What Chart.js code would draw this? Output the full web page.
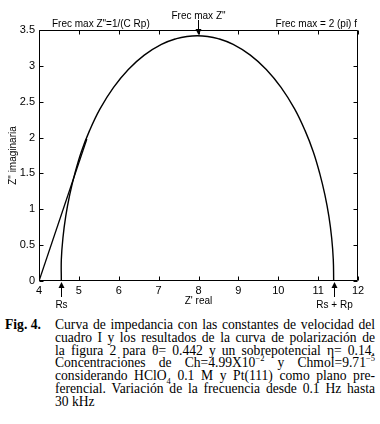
<!DOCTYPE html>
<html><head><meta charset="utf-8">
<script src="https://cdn.jsdelivr.net/npm/chart.js@4/dist/chart.umd.min.js"></script>
<style>
html,body{margin:0;padding:0;background:#fff;}
#wrap{position:relative;width:380px;height:424px;overflow:hidden;background:#fff}
canvas{position:absolute;left:0;top:0}
#cap{position:absolute;left:5px;top:319px;width:370px;font-family:"Liberation Serif","Times New Roman",serif;font-size:13.6px;line-height:12.8px;color:#000;display:flex}
#cap .fig{font-weight:bold;width:50px;flex:none}
#cap .txt{width:320px}
#cap .ln{text-align:justify;text-align-last:justify;white-space:nowrap}
#cap .ln.last{text-align-last:left}
sup,sub{font-size:8.5px;line-height:0}
</style></head><body>
<div id="wrap"><canvas id="c" width="380" height="314"></canvas>
<div id="cap"><div class="fig">Fig. 4.</div><div class="txt">
<div class="ln">Curva de impedancia con las constantes de velocidad del</div>
<div class="ln">cuadro I y los resultados de la curva de polarización de</div>
<div class="ln">la figura 2 para θ= 0.442 y un sobrepotencial η= 0.14.</div>
<div class="ln">Concentraciones de Ch=4.99X10<sup>−2</sup> y Chmol=9.71<sup>−5</sup></div>
<div class="ln">considerando HClO<sub>4</sub> 0.1 M y Pt(111) como plano pre-</div>
<div class="ln">ferencial. Variación de la frecuencia desde 0.1 Hz hasta</div>
<div class="ln last">30 kHz</div>
</div></div></div>
<script>
// Nyquist curve
const zReal = [4.56, 4.56, 4.60, 4.67, 4.77, 4.90, 5.06, 5.27, 5.53, 5.87, 6.24, 6.64, 7.07, 7.45, 7.71, 7.97, 8.23, 8.49, 8.87, 9.30, 9.70, 10.07, 10.41, 10.67, 10.88, 11.04, 11.17, 11.27, 11.34, 11.38, 11.39];
const zImag = [0, 0.30, 0.60, 0.90, 1.20, 1.50, 1.80, 2.10, 2.40, 2.70, 2.95, 3.15, 3.30, 3.38, 3.41, 3.42, 3.41, 3.38, 3.30, 3.15, 2.95, 2.70, 2.40, 2.10, 1.80, 1.50, 1.20, 0.90, 0.60, 0.30, 0];
// straight line from the origin of the axes
const lineReal = [4.0, 5.2];
const lineImag = [0, 1.98];
// marked values
const rsValue = 4.56;
const rsRpValue = 11.40;
const peakReal = 7.99;
const xMin = 4, xMax = 12, xStep = 1;
const yMin = 0, yMax = 3.5, yStep = 0.5;

const sans = '"Liberation Sans", Arial, Helvetica, sans-serif';

const frame = {
  id: 'frame',
  afterDraw(chart) {
    const {ctx, chartArea: a, scales: {x, y}} = chart;
    const L = Math.round(a.left) + 0.5, R = Math.round(a.right) - 0.5;
    const T = Math.round(a.top) + 0.5, B = Math.round(a.bottom) - 0.5;
    ctx.save();
    ctx.strokeStyle = '#000'; ctx.lineWidth = 1;
    ctx.beginPath();
    ctx.rect(L, T, R - L, B - T);
    const tl = 4;
    x.ticks.forEach(t => {
      const p = Math.round(x.getPixelForValue(t.value)) + 0.5;
      ctx.moveTo(p, B); ctx.lineTo(p, B - tl);
      ctx.moveTo(p, T); ctx.lineTo(p, T + tl);
    });
    y.ticks.forEach(t => {
      const p = Math.round(y.getPixelForValue(t.value)) + 0.5;
      ctx.moveTo(L, p); ctx.lineTo(L + tl, p);
      ctx.moveTo(R, p); ctx.lineTo(R - tl, p);
    });
    ctx.stroke();

    function arrow(xp, tail, tip) {
      const dir = tip > tail ? 1 : -1;
      ctx.beginPath();
      ctx.moveTo(xp, tail); ctx.lineTo(xp, tip - dir * 4);
      ctx.stroke();
      ctx.beginPath();
      ctx.moveTo(xp, tip);
      ctx.lineTo(xp - 3, tip - dir * 6);
      ctx.lineTo(xp + 3, tip - dir * 6);
      ctx.closePath();
      ctx.fillStyle = '#000';
      ctx.fill();
    }
    const rsX = Math.round(x.getPixelForValue(rsValue)) + 0.5;
    const rsRpX = Math.round(x.getPixelForValue(rsRpValue)) + 0.5;
    const pkX = Math.round(x.getPixelForValue(peakReal)) + 0.5;
    arrow(rsX, a.bottom + 16, a.bottom + 1);
    arrow(rsRpX, a.bottom + 16, a.bottom + 1);
    arrow(pkX, a.top - 10, a.top + 5);

    ctx.fillStyle = '#000';
    ctx.font = '10px ' + sans;
    ctx.textBaseline = 'middle';
    ctx.textAlign = 'left';
    ctx.fillText('Frec max Z"=1/(C Rp)', a.left + 13, a.top - 5.5);
    ctx.textAlign = 'right';
    ctx.fillText('Frec max = 2 (pi) f', a.right - 1, a.top - 5.5);
    ctx.textAlign = 'center';
    ctx.fillText('Frec max Z"', pkX, a.top - 14);
    ctx.fillText('Rs', rsX, a.bottom + 24);
    ctx.fillText('Rs + Rp', rsRpX, a.bottom + 24);
    ctx.restore();
  }
};

const pts = (xs, ys) => xs.map((v, i) => ({x: v, y: ys[i]}));
const fmt = v => String(v);

new Chart(document.getElementById('c'), {
  type: 'scatter',
  data: {
    datasets: [
      {data: pts(zReal, zImag), showLine: true, borderColor: '#000', borderWidth: 1.4, pointRadius: 0, tension: 0.4, fill: false},
      {data: pts(lineReal, lineImag), showLine: true, borderColor: '#000', borderWidth: 1.3, pointRadius: 0, tension: 0, fill: false}
    ]
  },
  options: {
    responsive: false,
    animation: false,
    layout: {padding: {top: 30, right: 22, left: 0, bottom: 0}},
    plugins: {legend: {display: false}, tooltip: {enabled: false}},
    scales: {
      x: {
        type: 'linear', min: xMin, max: xMax,
        ticks: {stepSize: xStep, padding: 3, color: '#000', font: {family: sans, size: 11}, callback: fmt},
        grid: {display: false, drawTicks: false},
        border: {display: false},
        title: {display: true, text: "Z' real", color: '#000', font: {family: sans, size: 10}, padding: {top: 0, bottom: 7}},
        afterFit(s) { s.height = 33; }
      },
      y: {
        type: 'linear', min: yMin, max: yMax,
        ticks: {stepSize: yStep, padding: 4, color: '#000', font: {family: sans, size: 11}, callback: fmt},
        grid: {display: false, drawTicks: false},
        border: {display: false},
        title: {display: true, text: 'Z" imaginaria', color: '#000', font: {family: sans, size: 10}, padding: {top: 7, bottom: 0}},
        afterFit(s) { s.width = 39; }
      }
    }
  },
  plugins: [frame]
});
</script>
</body></html>
